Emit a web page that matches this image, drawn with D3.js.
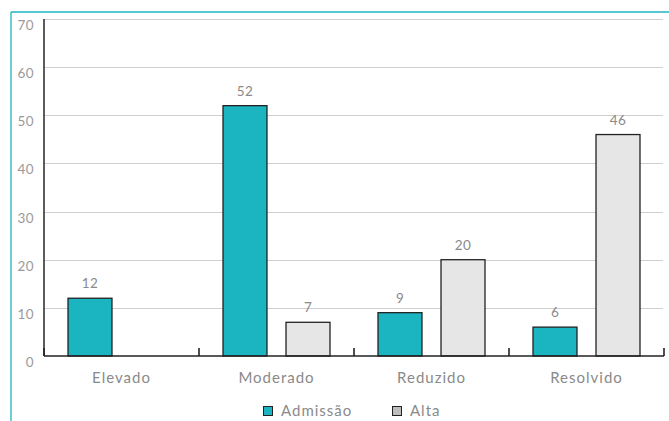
<!DOCTYPE html>
<html>
<head>
<meta charset="utf-8">
<script src="https://cdn.jsdelivr.net/npm/d3@7"></script>
<style>
  html, body { margin: 0; padding: 0; background: #fff; }
  svg { display: block; font-family: Lato, "Open Sans", sans-serif; }
</style>
</head>
<body>
<svg id="chart" width="669" height="421"></svg>
<script>
// Categories and series
const categories = ["Elevado", "Moderado", "Reduzido", "Resolvido"];
const seriesNames = ["Admissão", "Alta"];
const admissao = [12, 52, 9, 6];
const alta = [null, 7, 20, 46];
const yTicks = [0, 10, 20, 30, 40, 50, 60, 70];

const colors = { "Admissão": "#1bb5c1", "Alta": "#e6e6e6" };
const legendColors = { "Admissão": "#1bb5c1", "Alta": "#bdbdbd" };

const svg = d3.select("#chart");

// Frame lines along the top and left edge
svg.append("line").attr("x1", 11).attr("x2", 669).attr("y1", 12).attr("y2", 12)
  .attr("stroke", "#1bb5c1").attr("stroke-width", 1.3);
svg.append("line").attr("x1", 11).attr("x2", 11).attr("y1", 12).attr("y2", 421)
  .attr("stroke", "#1bb5c1").attr("stroke-width", 1.3);

const plot = { left: 44, right: 664, top: 19, bottom: 356 };

const x0 = d3.scaleBand().domain(categories).range([plot.left, plot.right]).padding(0);
const x1 = d3.scaleBand().domain(seriesNames).range([24, 131]).paddingInner(0.302).paddingOuter(0);
const y = d3.scaleLinear().domain([0, 70]).range([plot.bottom, plot.top]);

// Gridlines
svg.append("g").selectAll("line").data(yTicks.filter(d => d > 0)).join("line")
  .attr("x1", plot.left).attr("x2", plot.right - 1)
  .attr("y1", d => Math.round(y(d)) + 0.5).attr("y2", d => Math.round(y(d)) + 0.5)
  .attr("stroke", "#cfcfcf").attr("stroke-width", 1.2);

// Y tick labels
svg.append("g").selectAll("text").data(yTicks).join("text")
  .attr("x", 34).attr("y", d => y(d) + 11)
  .attr("text-anchor", "end")
  .attr("font-size", 13.5).attr("letter-spacing", 0.4).attr("fill", "#9a9a9a")
  .text(d => d);

// Bars
const rows = categories.map((c, i) => ({
  category: c,
  values: [
    { key: "Admissão", value: admissao[i] },
    { key: "Alta", value: alta[i] }
  ].filter(v => v.value != null)
}));

const groups = svg.append("g").selectAll("g").data(rows).join("g")
  .attr("transform", d => `translate(${x0(d.category)},0)`);

groups.selectAll("rect").data(d => d.values).join("rect")
  .attr("x", d => x1(d.key))
  .attr("y", d => y(d.value))
  .attr("width", x1.bandwidth())
  .attr("height", d => y(0) - y(d.value))
  .attr("fill", d => colors[d.key])
  .attr("stroke", "#222")
  .attr("stroke-width", 1.3);

groups.selectAll("text").data(d => d.values).join("text")
  .attr("x", d => x1(d.key) + x1.bandwidth() / 2)
  .attr("y", d => y(d.value) - 10)
  .attr("text-anchor", "middle")
  .attr("font-size", 13.5).attr("letter-spacing", 0.4).attr("fill", "#8a8a8a")
  .text(d => d.value);

// Axes
svg.append("line").attr("x1", plot.left).attr("x2", plot.left)
  .attr("y1", plot.top).attr("y2", plot.bottom)
  .attr("stroke", "#333").attr("stroke-width", 1.6);

const xAxis = d3.axisBottom(x0).tickSize(0).tickFormat(d => d);
const gx = svg.append("g").attr("transform", `translate(0,${plot.bottom})`).call(xAxis);
gx.select(".domain").attr("stroke", "#222").attr("stroke-width", 1.6).attr("d", `M${plot.left},0H${plot.right}`);
gx.selectAll(".tick text").attr("dy", 0).attr("y", 27)
  .attr("font-size", 15).attr("letter-spacing", 1).attr("fill", "#8a8a8a")
  .attr("font-family", "Lato, sans-serif");

// Band boundary ticks pointing upward
const boundaries = categories.map(c => x0(c) + x0.bandwidth()).concat([plot.left]);
svg.append("g").selectAll("line").data(boundaries).join("line")
  .attr("x1", d => d).attr("x2", d => d)
  .attr("y1", plot.bottom - 8).attr("y2", plot.bottom)
  .attr("stroke", "#222").attr("stroke-width", 1.6);

// Legend
const legendX = [263, 392];
const legend = svg.append("g").selectAll("g").data(seriesNames).join("g")
  .attr("transform", (d, i) => `translate(${legendX[i]},406)`);
legend.append("rect").attr("width", 9).attr("height", 9).attr("y", 0.5).attr("x", 0.5)
  .attr("fill", d => legendColors[d]).attr("stroke", "#222").attr("stroke-width", 1);
legend.append("text").attr("x", 18).attr("y", 10)
  .attr("font-size", 15).attr("letter-spacing", 1).attr("fill", "#8a8a8a").text(d => d);
</script>
</body>
</html>
